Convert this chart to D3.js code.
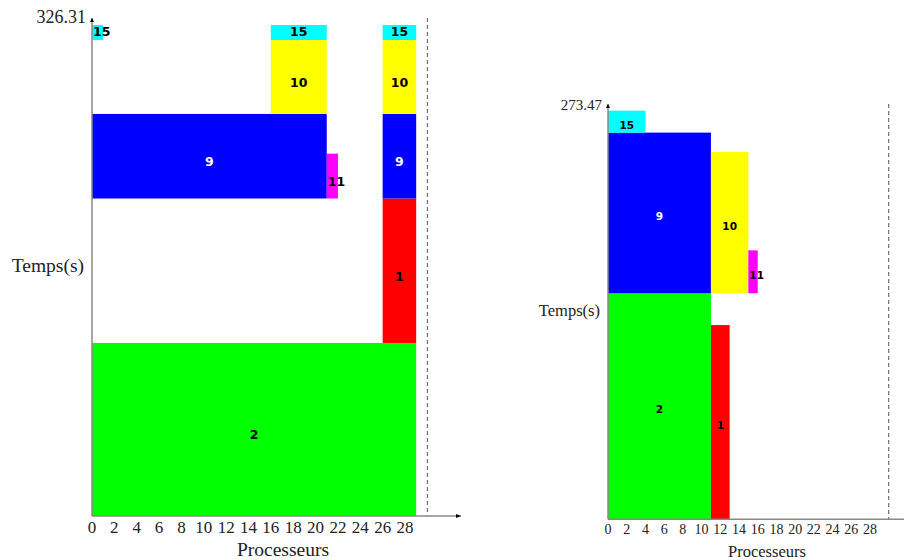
<!DOCTYPE html>
<html>
<head>
<meta charset="utf-8">
<script src="https://cdn.jsdelivr.net/npm/d3@7"></script>
<style>
  body { margin: 0; background: #fff; }
  svg { display: block; }
</style>
</head>
<body>
<svg width="904" height="560"></svg>
<script>
var svg = d3.select('svg');

// task colours (by task number)
var taskColors = { 1: '#ff0000', 2: '#00ff00', 9: '#0000ff', 10: '#ffff00', 11: '#ff00ff', 15: '#00ffff' };

// left schedule : task, first proc, last proc, start, end
var leftTasks  = [2, 1, 9, 9, 11, 10, 10, 15, 15, 15];
var leftProcA  = [0, 26, 0, 26, 21, 16, 26, 0, 16, 26];
var leftProcB  = [29, 29, 21, 29, 22, 21, 29, 1, 21, 29];
var leftStart  = [0, 115, 211, 211, 211, 267.2, 267.2, 316.3, 316.3, 316.3];
var leftEnd    = [115, 211, 267.2, 267.2, 240.8, 316.3, 316.3, 326.31, 326.31, 326.31];
var leftMax    = 326.31;

// right schedule
var rightTasks = [2, 1, 9, 10, 11, 15];
var rightProcA = [0, 11, 0, 11, 15, 0];
var rightProcB = [11, 13, 11, 15, 16, 4];
var rightStart = [0, 0, 151.3, 151.3, 151.3, 258.8];
var rightEnd   = [151.3, 130, 258.8, 245.9, 180, 273.47];
var rightMax   = 273.47;

var procTicks = [0, 2, 4, 6, 8, 10, 12, 14, 16, 18, 20, 22, 24, 26, 28];
var procLimit = 30;

function buildRows(tasks, a, b, s, e) {
    var rows = [];
    for (var i = 0; i < tasks.length; i++) {
        rows.push({ task: tasks[i], p0: a[i], p1: b[i], t0: s[i], t1: e[i] });
    }
    return rows;
}

function drawChart(rows, maxTime, opt) {
    var x = d3.scaleLinear().domain([0, 28]).range([opt.left, opt.x28]);
    var y = d3.scaleLinear().domain([0, maxTime]).range([opt.bottom, opt.top]);
    var g = svg.append('g');

    g.selectAll('rect.task')
        .data(rows)
        .enter()
        .append('rect')
        .attr('class', 'task')
        .attr('x', function(d) { return x(d.p0); })
        .attr('y', function(d) { return y(d.t1); })
        .attr('width', function(d) { return x(d.p1) - x(d.p0); })
        .attr('height', function(d) { return y(d.t0) - y(d.t1); })
        .attr('fill', function(d) { return taskColors[d.task]; });

    // labels: centred, but kept inside their box
    g.selectAll('text.task')
        .data(rows)
        .enter()
        .append('text')
        .attr('y', function(d) {
            var c = (y(d.t0) + y(d.t1)) / 2 + opt.labelShift;
            return Math.min(c, y(d.t0) - 4);
        })
        .attr('font-family', 'DejaVu Sans')
        .attr('font-weight', 'bold')
        .attr('font-size', opt.labelSize)
        .attr('fill', function(d) { return d.task === 9 ? '#fff' : '#000'; })
        .text(function(d) { return d.task; })
        .attr('x', function(d) {
            var w = this.getComputedTextLength();
            var c = (x(d.p0) + x(d.p1)) / 2;
            return Math.max(x(d.p0) + 1, c - w / 2);
        });

    // processor limit
    g.append('line')
        .attr('x1', x(procLimit)).attr('x2', x(procLimit))
        .attr('y1', opt.arrowTop).attr('y2', opt.bottom)
        .attr('stroke', '#555')
        .attr('stroke-width', 1)
        .attr('stroke-dasharray', '4,3');

    // axes
    g.append('line')
        .attr('x1', opt.left).attr('x2', opt.left)
        .attr('y1', opt.bottom).attr('y2', opt.arrowTop)
        .attr('stroke', '#888').attr('stroke-width', 1.5);
    g.append('path')
        .attr('d', 'M' + (opt.left - 2) + ',' + (opt.arrowTop + 4) + 'L' + opt.left + ',' + opt.arrowTop + 'L' + (opt.left + 2) + ',' + (opt.arrowTop + 4) + 'Z')
        .attr('fill', '#000');
    g.append('line')
        .attr('x1', opt.left).attr('x2', opt.arrowRight)
        .attr('y1', opt.bottom).attr('y2', opt.bottom)
        .attr('stroke', '#888').attr('stroke-width', 1.5);
    g.append('path')
        .attr('d', 'M' + (opt.arrowRight - 5) + ',' + (opt.bottom - 2) + 'L' + opt.arrowRight + ',' + opt.bottom + 'L' + (opt.arrowRight - 5) + ',' + (opt.bottom + 2) + 'Z')
        .attr('fill', '#000');

    g.selectAll('text.tick')
        .data(procTicks)
        .enter()
        .append('text')
        .attr('x', function(d) { return x(d); })
        .attr('y', opt.tickY)
        .attr('text-anchor', 'middle')
        .attr('font-family', 'Liberation Serif')
        .attr('font-size', opt.tickSize)
        .attr('fill', '#222')
        .text(function(d) { return d; });

    g.append('text')
        .attr('x', opt.left - 6)
        .attr('y', opt.maxY)
        .attr('text-anchor', 'end')
        .attr('font-family', 'Liberation Serif')
        .attr('font-size', opt.valueSize)
        .attr('fill', '#222')
        .text(maxTime.toFixed(2));

    g.append('text')
        .attr('x', opt.left - 8)
        .attr('y', opt.yTitleY)
        .attr('text-anchor', 'end')
        .attr('font-family', 'Liberation Serif')
        .attr('font-size', opt.textSize)
        .attr('fill', '#222')
        .text('Temps(s)');

    g.append('text')
        .attr('x', opt.xTitleX)
        .attr('y', opt.xTitleY)
        .attr('text-anchor', 'middle')
        .attr('font-family', 'Liberation Serif')
        .attr('font-size', opt.textSize)
        .attr('fill', '#222')
        .text('Processeurs');
}

drawChart(buildRows(leftTasks, leftProcA, leftProcB, leftStart, leftEnd), leftMax, {
    left: 92, x28: 405, top: 25, bottom: 516, arrowTop: 18, arrowRight: 461,
    labelSize: 12.5, labelShift: 10, tickSize: 17, tickY: 533, textSize: 19.5, valueSize: 18,
    maxY: 23, yTitleY: 272, xTitleX: 283, xTitleY: 556
});

drawChart(buildRows(rightTasks, rightProcA, rightProcB, rightStart, rightEnd), rightMax, {
    left: 608, x28: 870, top: 110.7, bottom: 519.3, arrowTop: 104, arrowRight: 910,
    labelSize: 10.5, labelShift: 7, tickSize: 14, tickY: 534, textSize: 16.5, valueSize: 15,
    maxY: 110, yTitleY: 316, xTitleX: 767, xTitleY: 557
});
</script>
</body>
</html>
